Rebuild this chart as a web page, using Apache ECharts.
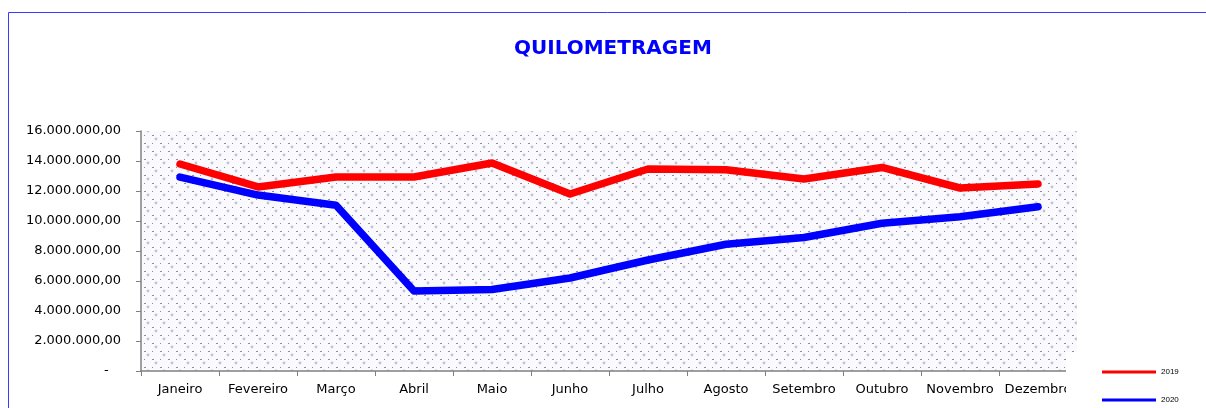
<!DOCTYPE html>
<html>
<head>
<meta charset="utf-8">
<script src="https://cdn.jsdelivr.net/npm/echarts@6/dist/echarts.min.js"></script>
<style>
  html, body { margin: 0; padding: 0; background: #fff; }
  #chart { width: 1206px; height: 408px; }
</style>
</head>
<body>
<div id="chart"></div>
<script>
var meses = ['Janeiro', 'Fevereiro', 'Março', 'Abril', 'Maio', 'Junho', 'Julho', 'Agosto', 'Setembro', 'Outubro', 'Novembro', 'Dezembro']
var km2019 = [13800000, 12270000, 12930000, 12930000, 13870000, 11800000, 13470000, 13420000, 12800000, 13570000, 12200000, 12470000]
var km2020 = [12930000, 11730000, 11050000, 5330000, 5430000, 6200000, 7400000, 8450000, 8900000, 9850000, 10280000, 10950000]
var yMax = 16000000
var yStep = 2000000

// formata no padrão 16.000.000,00
function fmt(v) {
  if (v === 0) return '-   '
  var s = String(Math.round(v))
  s = s.replace(/\B(?=(\d{3})+(?!\d))/g, '.')
  return s + ',00'
}

// textura pontilhada do fundo (tipo padrão do excel)
function pontilhado() {
  var c = document.createElement('canvas')
  c.width = 16
  c.height = 16
  var g = c.getContext('2d')
  g.fillStyle = '#f9f9fe'
  g.fillRect(0, 0, 16, 16)
  g.fillStyle = 'rgba(130,130,155,0.45)'
  g.beginPath(); g.arc(4, 3, 1.4, 0, Math.PI * 2); g.fill()
  g.beginPath(); g.arc(12, 11, 1.4, 0, Math.PI * 2); g.fill()
  g.fillStyle = 'rgba(80,80,100,0.65)'
  g.fillRect(0, 7, 1, 1)
  g.fillRect(8, 7, 2, 1)
  g.fillRect(0, 15, 2, 1)
  g.fillRect(8, 15, 1, 1)
  return c
}

var myChart = echarts.init(document.getElementById('chart'), null, { renderer: 'canvas' })
var font = 'DejaVu Sans'

var option = {
  backgroundColor: '#fff',
  animation: false,
  title: {
    text: 'QUILOMETRAGEM',
    left: 509,
    top: 34,
    textStyle: { color: '#0000ff', fontSize: 20, fontWeight: 'bold', fontFamily: font }
  },
  legend: [
    {
      data: ['2019'],
      left: 1097,
      top: 363,
      icon: 'rect',
      itemWidth: 54,
      itemHeight: 3,
      itemGap: 6,
      textStyle: { color: '#000', fontSize: 8, fontFamily: 'Liberation Sans' }
    },
    {
      data: ['2020'],
      left: 1097,
      top: 391,
      icon: 'rect',
      itemWidth: 54,
      itemHeight: 3,
      itemGap: 6,
      textStyle: { color: '#000', fontSize: 8, fontFamily: 'Liberation Sans' }
    }
  ],
  grid: {
    left: 141,
    right: 129,
    top: 131,
    bottom: 37,
    show: true,
    borderWidth: 0,
    backgroundColor: { image: pontilhado(), repeat: 'repeat' }
  },
  xAxis: {
    type: 'category',
    data: meses,
    boundaryGap: true,
    axisLine: { lineStyle: { color: '#808080', width: 1.5 } },
    axisTick: { show: true, interval: 0, length: 5, lineStyle: { color: '#808080' } },
    axisLabel: { interval: 0, color: '#000', fontSize: 13, fontFamily: font, margin: 12 }
  },
  yAxis: {
    type: 'value',
    min: 0,
    max: yMax,
    interval: yStep,
    splitLine: { show: false },
    axisLine: { show: true, lineStyle: { color: '#808080', width: 1.5 } },
    axisTick: { show: true, length: 5, lineStyle: { color: '#808080' } },
    axisLabel: { color: '#000', fontSize: 13, fontFamily: font, margin: 20, formatter: fmt }
  },
  graphic: [
    {
      type: 'rect',
      z: 3,
      shape: { x: 1066, y: 352, width: 140, height: 56 },
      style: { fill: '#fff' }
    },
    {
      type: 'rect',
      z: 10,
      shape: { x: 8.5, y: 12.5, width: 1300, height: 500 },
      style: { fill: 'none', stroke: '#3a3aff', lineWidth: 1 }
    }
  ],
  series: [
    {
      name: '2019',
      type: 'line',
      data: km2019,
      showSymbol: false,
      color: '#ff0000',
      lineStyle: { color: '#ff0000', width: 7.5, cap: 'round', join: 'round' }
    },
    {
      name: '2020',
      type: 'line',
      data: km2020,
      showSymbol: false,
      color: '#0000ff',
      lineStyle: { color: '#0000ff', width: 7.5, cap: 'round', join: 'round' }
    }
  ]
}

myChart.setOption(option, true)
</script>
</body>
</html>
